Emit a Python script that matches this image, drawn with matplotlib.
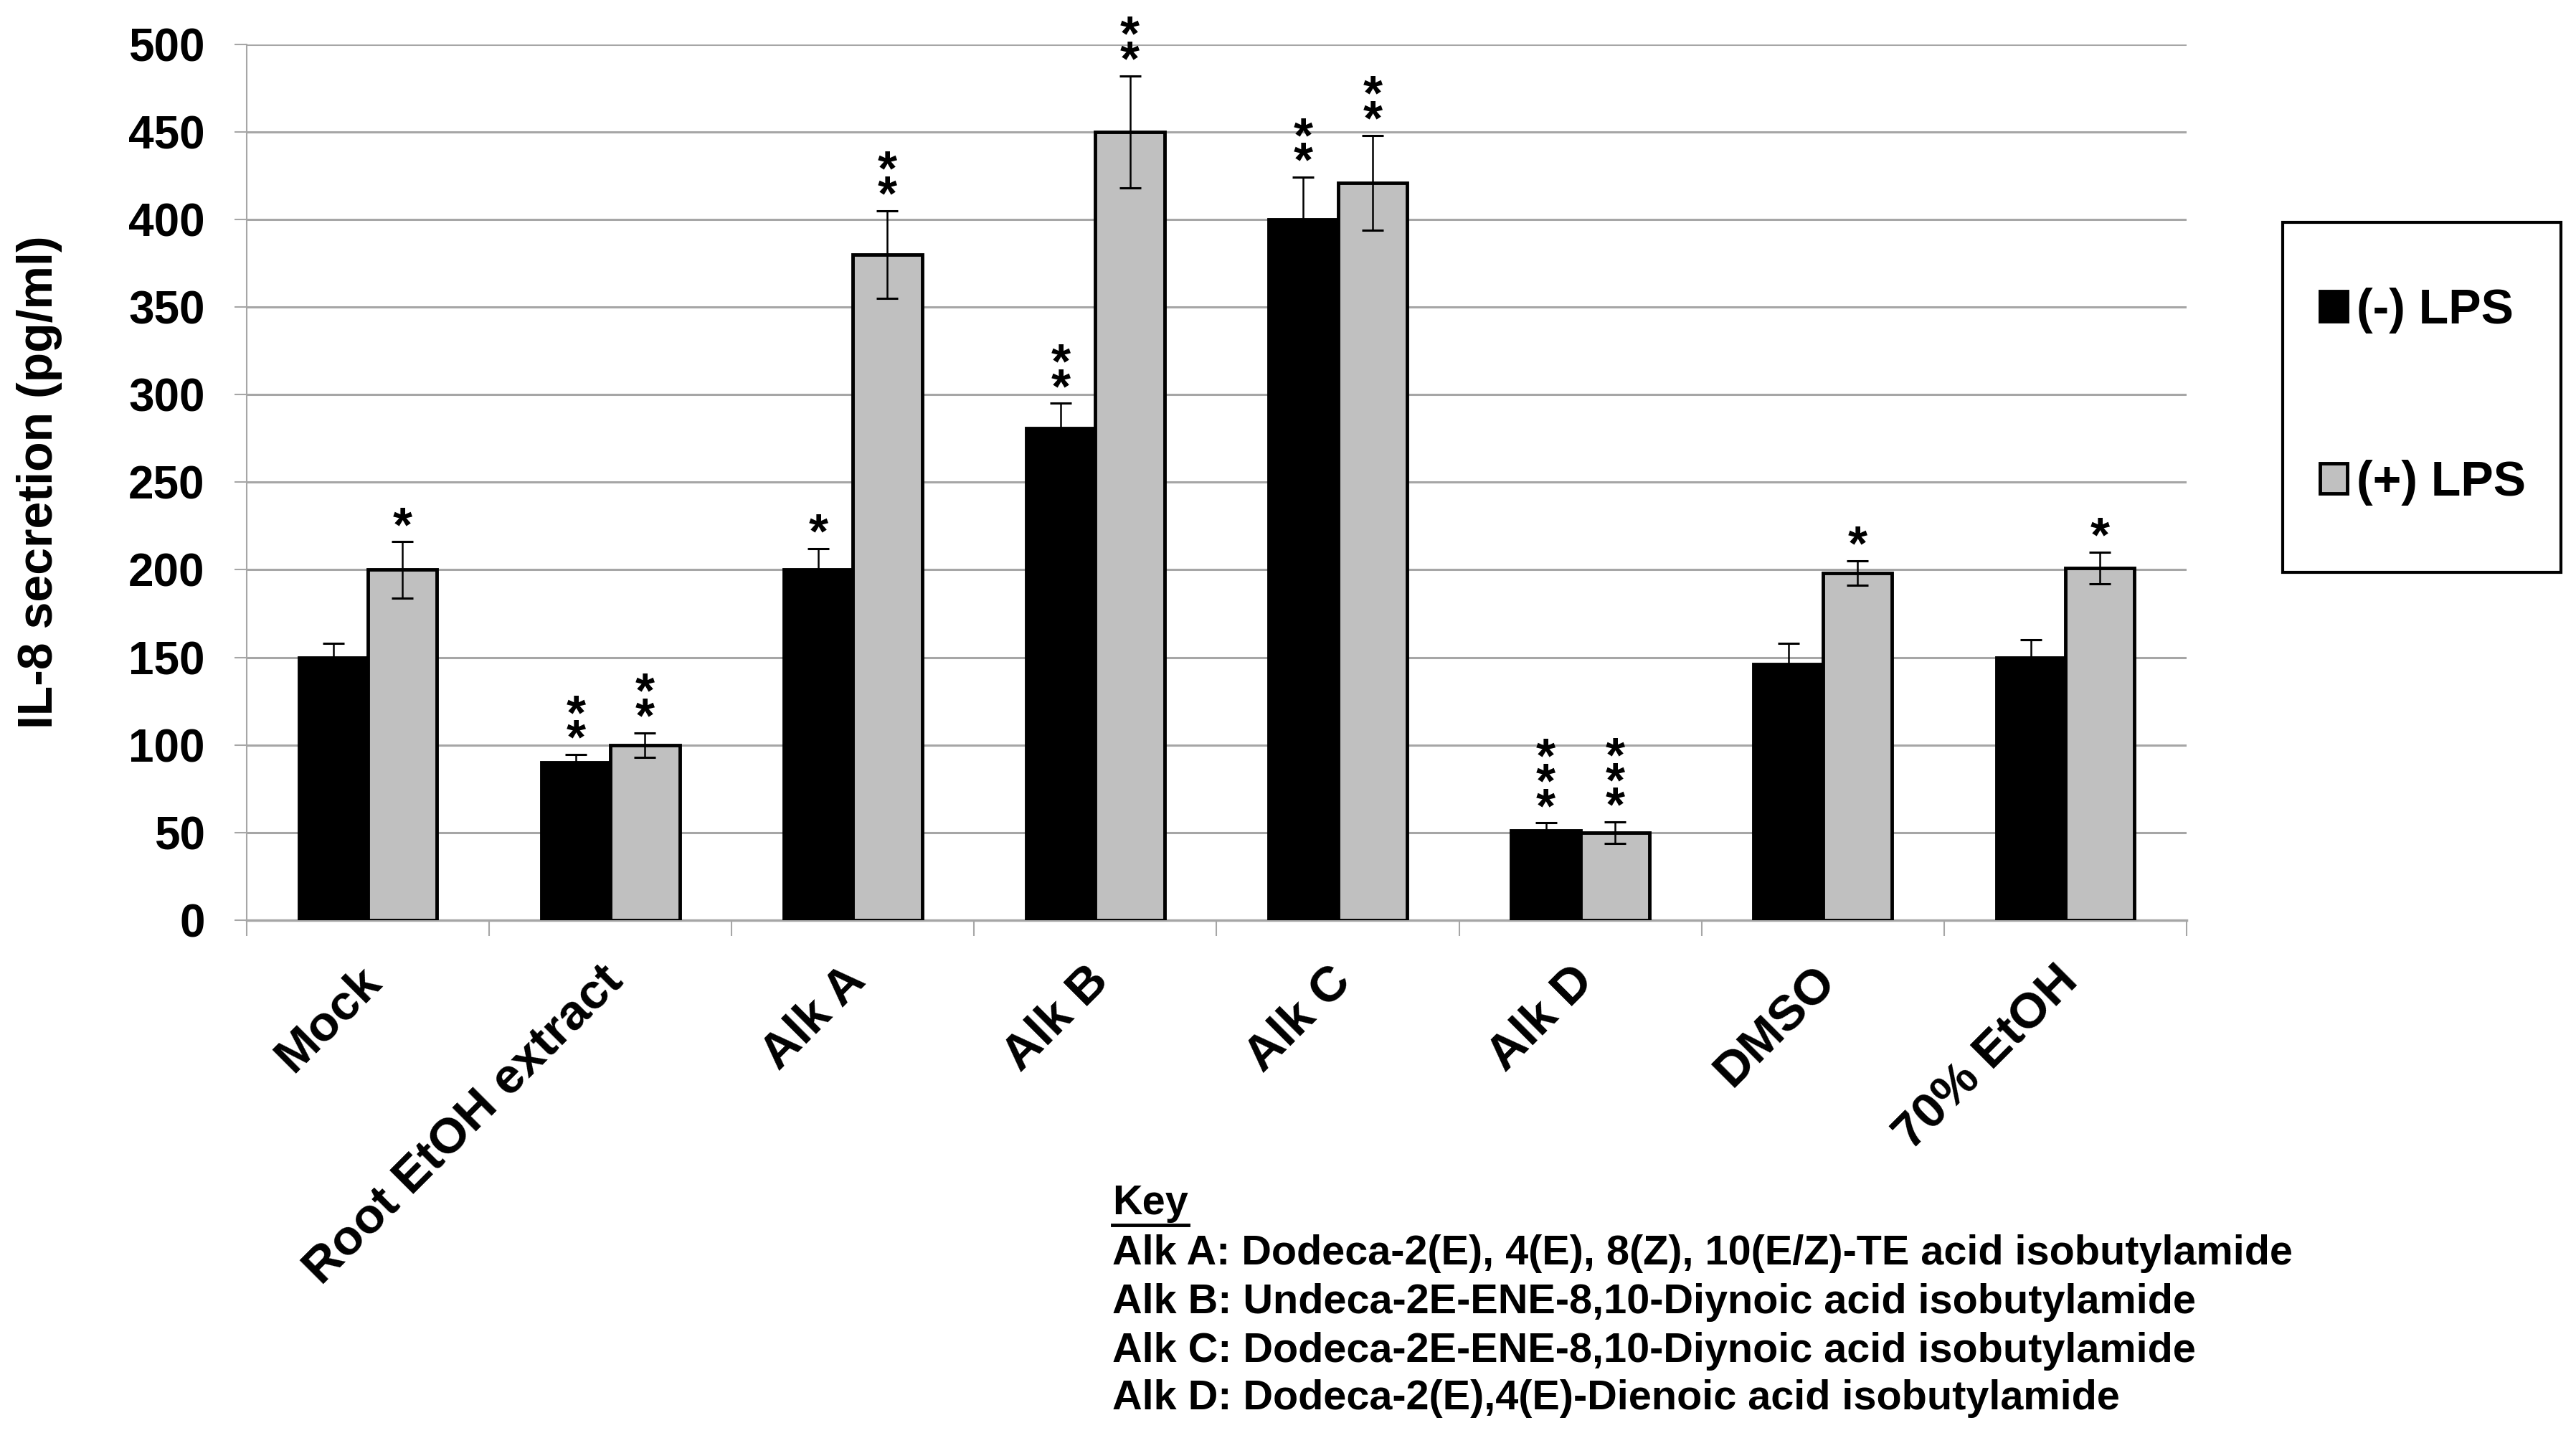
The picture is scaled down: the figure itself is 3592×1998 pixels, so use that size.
import numpy as np
import matplotlib.pyplot as plt
from matplotlib.patches import Rectangle
from matplotlib.lines import Line2D
from matplotlib.transforms import ScaledTranslation

plt.rcParams['font.family'] = ['Liberation Sans', 'DejaVu Sans']
plt.rcParams['font.weight'] = 'bold'

# values
categories = ['Mock', 'Root EtOH extract', 'Alk A', 'Alk B', 'Alk C', 'Alk D', 'DMSO', '70% EtOH']
neg_lps = [150, 90, 200, 281, 400, 51, 146, 150]
neg_err = [8, 4.5, 12, 14, 24, 4.5, 12, 10]
pos_lps = [200, 100, 380, 450, 421, 50, 198, 201]
pos_err = [16, 7, 25, 32, 27, 6, 7, 9]
neg_stars = [0, 2, 1, 2, 2, 3, 0, 0]
pos_stars = [1, 2, 2, 2, 2, 3, 1, 1]
series_labels = ['(-) LPS', '(+) LPS']

key_title = 'Key'
key_lines = [
    'Alk A: Dodeca-2(E), 4(E), 8(Z), 10(E/Z)-TE acid isobutylamide',
    'Alk B: Undeca-2E-ENE-8,10-Diynoic acid isobutylamide',
    'Alk C: Dodeca-2E-ENE-8,10-Diynoic acid isobutylamide',
    'Alk D: Dodeca-2(E),4(E)-Dienoic acid isobutylamide',
]

W, H = 3592, 1998
fig = plt.figure(figsize=(W / 100, H / 100), dpi=100)
ax = fig.add_axes([344 / W, 1 - 1283 / H, (3049 - 344) / W, (1283 - 61.6) / H])

x = np.arange(len(categories))
w = 0.285
ekw = dict(ecolor='black', elinewidth=1.8, capsize=10.5, capthick=2.2, zorder=4)
b1 = ax.bar(x - w / 2, neg_lps, w, color='black', edgecolor='black', linewidth=3.5,
            yerr=neg_err, error_kw=ekw, label=series_labels[0], zorder=3)
b2 = ax.bar(x + w / 2, pos_lps, w, color='#c0c0c0', edgecolor='black', linewidth=3.5,
            yerr=pos_err, error_kw=ekw, label=series_labels[1], zorder=3)

# significance stars stacked above the error bars
def add_stars(xs, tops, counts):
    for xi, top, n in zip(xs, tops, counts):
        for k in range(n):
            ax.annotate('*', xy=(xi, top), xytext=(0, 1 + 25 * k), textcoords='offset points',
                        ha='center', va='baseline', fontsize=50, fontweight='bold',
                        annotation_clip=False, zorder=5)

add_stars(x - w / 2, np.add(neg_lps, neg_err), neg_stars)
add_stars(x + w / 2, np.add(pos_lps, pos_err), pos_stars)

ax.set_xlim(-0.5, len(categories) - 0.5)
ax.set_ylim(0, 500)
ax.set_yticks(range(0, 501, 50))
ax.set_axisbelow(True)
ax.yaxis.grid(True, color='#a6a6a6', linewidth=2.2)
for s in ['top', 'right']:
    ax.spines[s].set_visible(False)
ax.spines['left'].set_color('#a6a6a6')
ax.spines['left'].set_linewidth(1.5)
ax.spines['bottom'].set_color('#a6a6a6')
ax.spines['bottom'].set_linewidth(2.5)

ax.tick_params(axis='y', length=12, width=1.5, color='#a6a6a6', labelsize=46, pad=30)
ax.set_xticks(x)
ax.set_xticks(np.arange(-0.5, len(categories), 1), minor=True)
ax.tick_params(axis='x', which='minor', length=16, width=1.5, color='#a6a6a6')
ax.tick_params(axis='x', which='major', length=0, pad=54)
ax.set_xticklabels(categories, rotation=45, ha='right', va='center',
                   rotation_mode='anchor', fontsize=50, fontweight='bold')
for lab in ax.get_xticklabels():
    lab.set_transform(lab.get_transform() + ScaledTranslation(0.08, 0, fig.dpi_scale_trans))

ax.set_ylabel('IL-8 secretion (pg/ml)', fontsize=49, fontweight='bold')
ax.yaxis.set_label_coords(-0.095, 0.5)

# legend with a square black frame
fig.legend(handles=[b1, b2], loc='center left', bbox_to_anchor=(3235 / W, 1 - 553 / H),
           frameon=False, prop={'size': 49, 'weight': 'bold'}, handlelength=0.56,
           handleheight=0.57, handletextpad=0.19, labelspacing=2.58, borderpad=0,
           borderaxespad=0)
fig.add_artist(Rectangle((3183 / W, 1 - 798 / H), (3571 - 3183) / W, (798 - 310) / H,
                         transform=fig.transFigure, fill=False, edgecolor='black', linewidth=3))

# key text block
kx = 1551 / W
t_key = fig.text(kx, 1 - 1678 / H, key_title, fontsize=41.5, fontweight='bold', va='center')
for yy, line in zip([1748, 1816, 1884, 1950], key_lines):
    fig.text(kx, 1 - yy / H, line, fontsize=41.5, fontweight='bold', va='center')
fig.canvas.draw()
bb = t_key.get_window_extent()
fig.add_artist(Line2D([bb.x0 / W, bb.x1 / W], [1 - 1708 / H, 1 - 1708 / H],
                      transform=fig.transFigure, color='black', linewidth=3.5))

fig.savefig('out.png', dpi=100)
